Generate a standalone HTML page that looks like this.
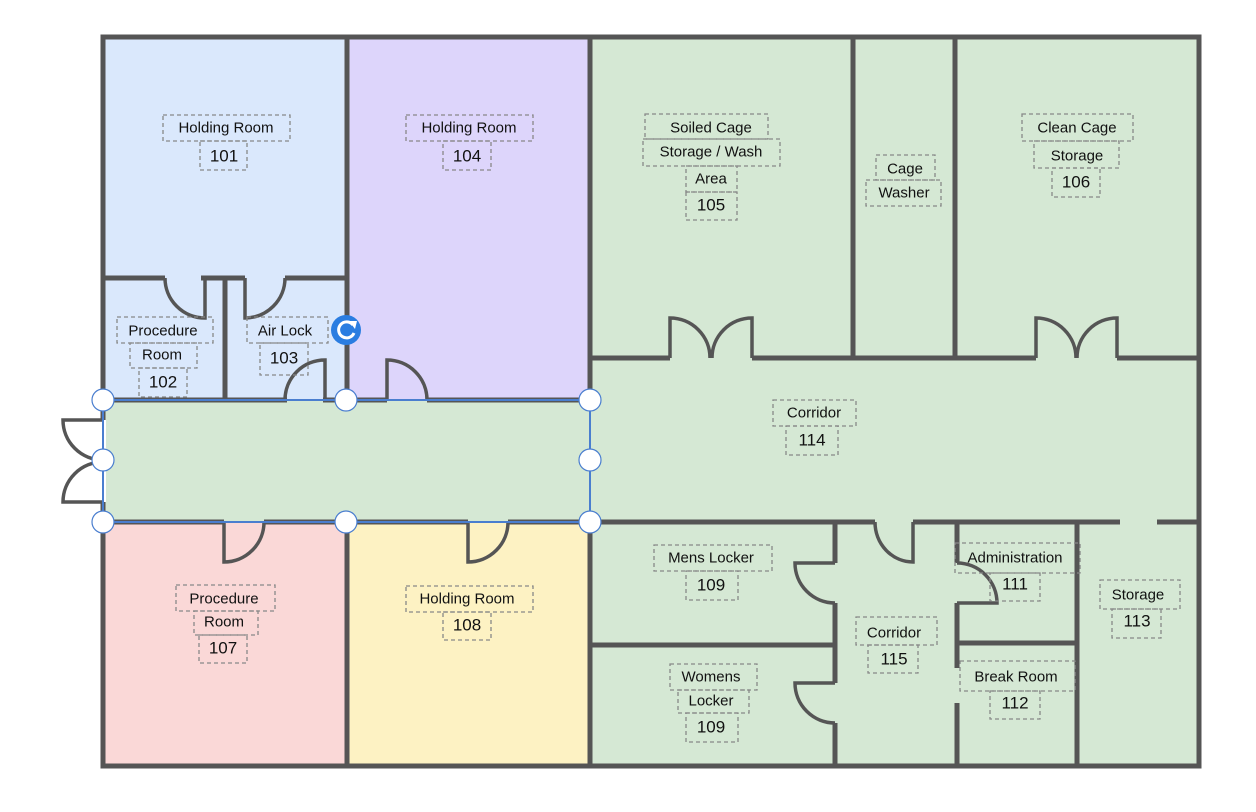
<!DOCTYPE html>
<html><head><meta charset="utf-8"><style>
html,body{margin:0;padding:0;background:#fff;}
svg{display:block;}
text{font-family:"Liberation Sans",Arial,sans-serif;fill:#111;text-anchor:middle;dominant-baseline:central;}
.w{stroke:#555;stroke-width:5;fill:none;stroke-linecap:butt;}
.d{stroke:#555;stroke-width:3.5;fill:none;}
.b{fill:none;stroke:#888;stroke-width:1.3;stroke-dasharray:4 3;}
</style></head><body>
<svg width="1256" height="812" viewBox="0 0 1256 812" xmlns="http://www.w3.org/2000/svg">
<rect x="103" y="37" width="244" height="363" fill="#dae8fc"/>
<rect x="347" y="37" width="243" height="363" fill="#ddd5fb"/>
<rect x="590" y="37" width="609" height="485" fill="#d5e8d4"/>
<rect x="103" y="400" width="487" height="122" fill="#d5e8d4"/>
<rect x="103" y="522" width="244" height="244" fill="#fad8d7"/>
<rect x="347" y="522" width="243" height="244" fill="#fdf2c3"/>
<rect x="590" y="522" width="609" height="244" fill="#d5e8d4"/>
<g class="w">
<rect x="103" y="37" width="1096" height="729"/>
<line x1="347" y1="37" x2="347" y2="400"/>
<line x1="347" y1="522" x2="347" y2="766"/>
<line x1="590" y1="37" x2="590" y2="400"/>
<line x1="590" y1="522" x2="590" y2="766"/>
<line x1="103" y1="278" x2="165" y2="278"/>
<line x1="201" y1="278" x2="245" y2="278"/>
<line x1="285" y1="278" x2="347" y2="278"/>
<line x1="225" y1="278" x2="225" y2="400"/>
<line x1="103" y1="400" x2="287" y2="400"/>
<line x1="323" y1="400" x2="387" y2="400"/>
<line x1="427" y1="400" x2="590" y2="400"/>
<line x1="590" y1="358" x2="670" y2="358"/>
<line x1="752" y1="358" x2="1036" y2="358"/>
<line x1="1117" y1="358" x2="1199" y2="358"/>
<line x1="853" y1="37" x2="853" y2="358"/>
<line x1="955" y1="37" x2="955" y2="358"/>
<line x1="103" y1="522" x2="224" y2="522"/>
<line x1="264" y1="522" x2="468" y2="522"/>
<line x1="508" y1="522" x2="875" y2="522"/>
<line x1="913" y1="522" x2="1120" y2="522"/>
<line x1="1157" y1="522" x2="1199" y2="522"/>
<line x1="835" y1="522" x2="835" y2="563"/>
<line x1="835" y1="603" x2="835" y2="683"/>
<line x1="835" y1="723" x2="835" y2="766"/>
<line x1="590" y1="645" x2="835" y2="645"/>
<line x1="957" y1="522" x2="957" y2="563"/>
<line x1="957" y1="603" x2="957" y2="668"/>
<line x1="957" y1="703" x2="957" y2="766"/>
<line x1="957" y1="643" x2="1077" y2="643"/>
<line x1="1077" y1="522" x2="1077" y2="766"/>
<line x1="103" y1="420" x2="103" y2="502" stroke="#fff" stroke-width="6"/>
</g>
<g class="d">
<path d="M205 278 V318 A40 40 0 0 1 165 278"/>
<path d="M245 278 V318 A40 40 0 0 0 285 278"/>
<path d="M325 400 V360 A40 40 0 0 0 285 400"/>
<path d="M387 400 V360 A40 40 0 0 1 427 400"/>
<path d="M670 358 V318 A40 40 0 0 1 710 358"/>
<path d="M752 358 V318 A40 40 0 0 0 712 358"/>
<path d="M1036 358 V318 A40 40 0 0 1 1076 358"/>
<path d="M1117 358 V318 A40 40 0 0 0 1077 358"/>
<path d="M224 522 V562 A40 40 0 0 0 264 522"/>
<path d="M468 522 V562 A40 40 0 0 0 508 522"/>
<path d="M913 522 V562 A38 40 0 0 1 875 522"/>
<path d="M835 563 H795 A40 40 0 0 0 835 603"/>
<path d="M835 683 H795 A40 40 0 0 0 835 723"/>
<path d="M957 603 H997 A40 40 0 0 0 957 563"/>
<path d="M103 420 H63 A40 40 0 0 0 103 460"/>
<path d="M103 502 H63 A40 40 0 0 1 103 462"/>
</g>
<rect x="103" y="400" width="487" height="122" fill="none" stroke="#4a7ecf" stroke-width="2"/>
<g fill="#fff" stroke="#4a7ecf" stroke-width="1.2">
<circle cx="103" cy="400" r="11"/><circle cx="346" cy="400" r="11"/><circle cx="590" cy="400" r="11"/>
<circle cx="103" cy="460" r="11"/><circle cx="590" cy="460" r="11"/>
<circle cx="103" cy="522" r="11"/><circle cx="346" cy="522" r="11"/><circle cx="590" cy="522" r="11"/>
</g>
<circle cx="346" cy="330" r="15" fill="#2a7de1"/>
<path d="M353 325 A8 8 0 1 0 354 333" fill="none" stroke="#fff" stroke-width="3"/>
<path d="M349 321 L357 321 L355 329 Z" fill="#fff"/>
<g font-size="15">
<rect class="b" x="163" y="115" width="127" height="26"/><text x="226" y="128">Holding Room</text>
<rect class="b" x="200" y="141" width="47" height="29"/><text x="224" y="156" font-size="17">101</text>
<rect class="b" x="406" y="115" width="127" height="26"/><text x="469" y="128">Holding Room</text>
<rect class="b" x="443" y="141" width="48" height="29"/><text x="467" y="156" font-size="17">104</text>
<rect class="b" x="645" y="114" width="123" height="25"/><text x="711" y="128">Soiled Cage</text>
<rect class="b" x="643" y="139" width="137" height="27"/><text x="711" y="152">Storage / Wash</text>
<rect class="b" x="686" y="166" width="51" height="26"/><text x="711" y="179">Area</text>
<rect class="b" x="686" y="192" width="51" height="28"/><text x="711" y="205" font-size="17">105</text>
<rect class="b" x="876" y="155" width="59" height="25"/><text x="905" y="169">Cage</text>
<rect class="b" x="866" y="180" width="75" height="26"/><text x="904" y="193">Washer</text>
<rect class="b" x="1022" y="114" width="111" height="27"/><text x="1077" y="128">Clean Cage</text>
<rect class="b" x="1034" y="141" width="85" height="27"/><text x="1077" y="156">Storage</text>
<rect class="b" x="1052" y="168" width="48" height="29"/><text x="1076" y="182" font-size="17">106</text>
<rect class="b" x="117" y="317" width="96" height="26"/><text x="163" y="331">Procedure</text>
<rect class="b" x="130" y="343" width="67" height="25"/><text x="162" y="355">Room</text>
<rect class="b" x="139" y="368" width="48" height="29"/><text x="163" y="382" font-size="17">102</text>
<rect class="b" x="247" y="317" width="81" height="26"/><text x="285" y="331">Air Lock</text>
<rect class="b" x="260" y="343" width="48" height="32"/><text x="284" y="358" font-size="17">103</text>
<rect class="b" x="773" y="400" width="83" height="26"/><text x="814" y="413">Corridor</text>
<rect class="b" x="786" y="426" width="52" height="29"/><text x="812" y="440" font-size="17">114</text>
<rect class="b" x="176" y="585" width="99" height="26"/><text x="224" y="599">Procedure</text>
<rect class="b" x="194" y="611" width="64" height="24"/><text x="224" y="622">Room</text>
<rect class="b" x="199" y="635" width="48" height="28"/><text x="223" y="648" font-size="17">107</text>
<rect class="b" x="406" y="586" width="127" height="26"/><text x="467" y="599">Holding Room</text>
<rect class="b" x="443" y="612" width="48" height="28"/><text x="467" y="625" font-size="17">108</text>
<rect class="b" x="654" y="545" width="118" height="26"/><text x="711" y="558">Mens Locker</text>
<rect class="b" x="686" y="571" width="52" height="29"/><text x="711" y="585" font-size="17">109</text>
<rect class="b" x="670" y="664" width="87" height="26"/><text x="711" y="677">Womens</text>
<rect class="b" x="678" y="690" width="71" height="23"/><text x="711" y="701">Locker</text>
<rect class="b" x="686" y="713" width="52" height="29"/><text x="711" y="727" font-size="17">109</text>
<rect class="b" x="856" y="617" width="81" height="28"/><text x="894" y="633">Corridor</text>
<rect class="b" x="868" y="645" width="50" height="28"/><text x="894" y="659" font-size="17">115</text>
<rect class="b" x="955" y="543" width="125" height="30"/><text x="1015" y="558">Administration</text>
<rect class="b" x="990" y="573" width="50" height="28"/><text x="1015" y="584" font-size="17">111</text>
<rect class="b" x="960" y="661" width="115" height="30"/><text x="1016" y="677">Break Room</text>
<rect class="b" x="990" y="691" width="50" height="28"/><text x="1015" y="703" font-size="17">112</text>
<rect class="b" x="1100" y="580" width="80" height="29"/><text x="1138" y="595">Storage</text>
<rect class="b" x="1112" y="609" width="49" height="29"/><text x="1137" y="621" font-size="17">113</text>
</g>
</svg>
</body></html>
